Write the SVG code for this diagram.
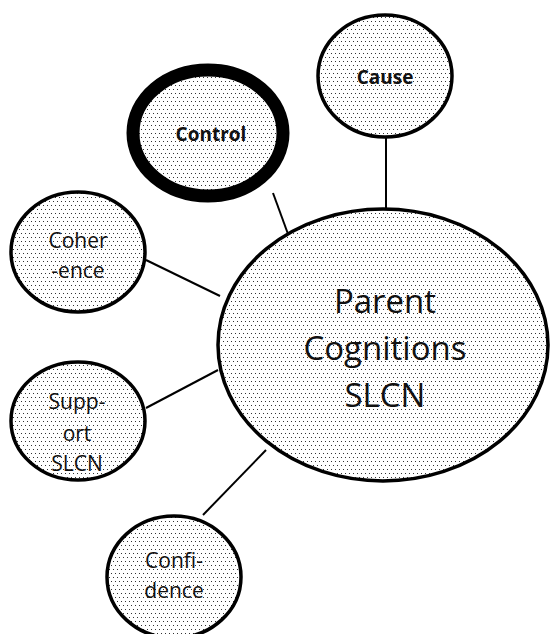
<svg xmlns="http://www.w3.org/2000/svg" width="552" height="634" viewBox="0 0 552 634">
  <defs>
    <pattern id="dots" width="4" height="8" patternUnits="userSpaceOnUse">
      <rect x="0" y="0" width="4" height="8" fill="#ffffff"/>
      <rect x="1" y="1" width="1" height="1" fill="#333333"/>
      <rect x="3" y="5" width="1" height="1" fill="#333333"/>
    </pattern>
  </defs>
  <style>
    .node { fill: url(#dots); stroke: #000; stroke-width: 3.5; }
    .thick { stroke-width: 13; }
    .edge { stroke: #000; stroke-width: 2; fill: none; }
    text { font-family: "Open Sans", "Noto Sans", "Liberation Sans", sans-serif; fill: #111; text-anchor: middle; }
    .small { font-size: 21px; }
    .bold { font-weight: bold; font-size: 19px; }
    .big { font-size: 33px; }
  </style>
  <rect width="552" height="634" fill="#ffffff"/>

  <g id="connectors">
    <line class="edge" x1="386" y1="138" x2="386" y2="212"/>
    <line class="edge" x1="273" y1="193" x2="288" y2="234"/>
    <line class="edge" x1="146" y1="260" x2="220" y2="296"/>
    <line class="edge" x1="146" y1="408" x2="218" y2="370"/>
    <line class="edge" x1="203" y1="515" x2="266" y2="450"/>
  </g>

  <g id="parent-cognitions">
    <ellipse class="node" cx="383" cy="345" rx="165" ry="136"/>
    <text class="big" x="385" y="313">Parent</text>
    <text class="big" x="385" y="360">Cognitions</text>
    <text class="big" x="385" y="407">SLCN</text>
  </g>

  <g id="cause">
    <ellipse class="node" cx="385" cy="76" rx="67" ry="61"/>
    <text class="bold" x="385" y="84">Cause</text>
  </g>

  <g id="control">
    <ellipse class="node thick" cx="208" cy="133" rx="75" ry="63"/>
    <text class="bold" x="211" y="141">Control</text>
  </g>

  <g id="coherence">
    <ellipse class="node" cx="78" cy="252" rx="67" ry="60"/>
    <text class="small" x="78" y="248">Coher</text>
    <text class="small" x="78" y="278">-ence</text>
  </g>

  <g id="support">
    <ellipse class="node" cx="78" cy="421" rx="67" ry="59"/>
    <text class="small" x="77" y="409">Supp-</text>
    <text class="small" x="77" y="441">ort</text>
    <text class="small" x="77" y="471">SLCN</text>
  </g>

  <g id="confidence">
    <ellipse class="node" cx="174" cy="577" rx="67" ry="61"/>
    <text class="small" x="174" y="568">Confi-</text>
    <text class="small" x="174" y="598">dence</text>
  </g>
</svg>
